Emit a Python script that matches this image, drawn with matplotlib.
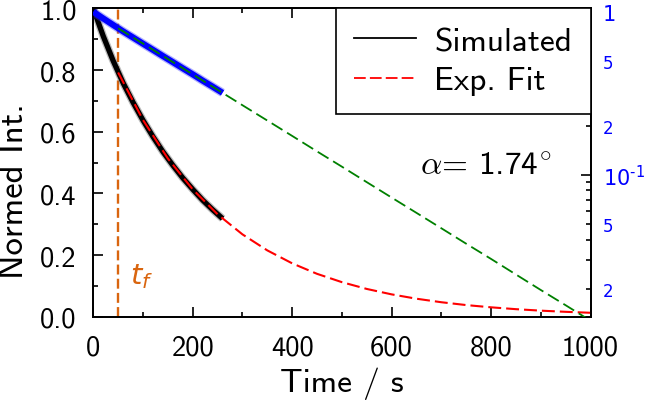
import numpy as np
import matplotlib
matplotlib.use("Agg")
import matplotlib.pyplot as plt
from matplotlib.lines import Line2D
from matplotlib.ticker import LogLocator, FuncFormatter, MultipleLocator

plt.rcParams['font.family'] = ['cmss10', 'DejaVu Sans']
plt.rcParams['mathtext.fontset'] = 'cm'
plt.rcParams['axes.unicode_minus'] = False

# simulated intensity
t_sim = [0, 20, 40, 60, 80, 100, 120, 140, 160, 180, 200, 220, 240, 260]
i_sim = [1.000, 0.910, 0.830, 0.758, 0.695, 0.637, 0.584, 0.535, 0.491,
         0.450, 0.413, 0.378, 0.347, 0.318]

# exponential fit, sampled from t_f on
t_fit = [50, 100, 150, 200, 250, 300, 350, 400, 450, 500, 550, 600, 650,
         700, 750, 800, 850, 900, 950, 1000]
i_fit = [0.792, 0.638, 0.513, 0.413, 0.332, 0.267, 0.215, 0.173, 0.139,
         0.112, 0.090, 0.0724, 0.0583, 0.0469, 0.0377, 0.0304, 0.0244,
         0.0196, 0.0158, 0.0127]

t_f = 50
alpha_deg = 1.74
orange = '#d9650f'

fig = plt.figure(figsize=(6.5, 4.06), dpi=100)
ax = fig.add_subplot(111)
fig.subplots_adjust(left=0.1435, right=0.9085, bottom=0.2175, top=0.977)
ax2 = ax.twinx()

# linear axis: black data + red fit
ax.plot(t_sim, i_sim, color='0.35', lw=5.6, alpha=0.4, solid_capstyle='butt', zorder=2)
ax.plot(t_sim, i_sim, color='black', lw=3.8, solid_capstyle='butt', zorder=3)
ax.plot(t_fit, i_fit, color='red', lw=1.5, dashes=(6.2, 2.4), zorder=4)
ax.axvline(t_f, color=orange, lw=1.7, dashes=(4.2, 1.8), zorder=1)
ax.text(74, 0.108, '$t_f$', color=orange, fontsize=21, math_fontfamily='dejavusans',
        va='baseline', ha='left')
ax.text(657, 0.463, r'$\alpha$= %.2f$^{\circ}$' % alpha_deg, fontsize=24,
        va='baseline', ha='left')

# log axis: blue data + green fit
ax2.set_yscale('log')
ax2.plot(t_sim, i_sim, color='#3a3aff', lw=6.2, alpha=0.4, solid_capstyle='butt', zorder=2)
ax2.plot(t_sim, i_sim, color='blue', lw=4.4, solid_capstyle='butt', zorder=3)
ax2.plot(t_fit, i_fit, color='green', lw=1.3, dashes=(7, 3), zorder=4)

ax.set_xlim(0, 1000)
ax.set_ylim(0, 1.0)
ax2.set_ylim(0.01344, 1.05)

ax.xaxis.set_major_locator(MultipleLocator(200))
ax.xaxis.set_minor_locator(MultipleLocator(100))
ax.yaxis.set_major_locator(MultipleLocator(0.2))
ax.yaxis.set_minor_locator(MultipleLocator(0.1))
ax.yaxis.set_major_formatter(FuncFormatter(lambda v, p: '%.1f' % v))
ax.tick_params(which='both', direction='in', top=True, right=False, width=1.2)
ax.tick_params(which='major', length=7, labelsize=20.5)
ax.tick_params(axis='x', which='major', pad=13)
ax.tick_params(axis='y', which='major', pad=12)
ax.tick_params(which='minor', length=3.5)

ax2.set_yticks([1, 0.1], ['1', r'$10^{\text{-}1}$'])
ax2.yaxis.set_minor_locator(LogLocator(base=10, subs=np.arange(2, 10)))


def minor_lab(v, p):
    m = int(round(v / 10 ** np.floor(np.log10(v))))
    return str(m) if m in (2, 5) else ''


ax2.yaxis.set_minor_formatter(FuncFormatter(minor_lab))
ax2.tick_params(which='both', direction='in', width=1.2, labelcolor='blue',
                pad=9, labelfontfamily='DejaVu Sans')
ax2.tick_params(which='major', length=7, labelsize=15)
ax2.tick_params(which='minor', length=3.5, labelsize=12)
for lab in ax2.get_yticklabels():
    lab.set_math_fontfamily('dejavusans')

for a in (ax, ax2):
    for s in a.spines.values():
        s.set_linewidth(1.3)

ax.set_xlabel('Time / s', fontsize=24)
ax.set_ylabel('Normed Int.', fontsize=25)
ax.xaxis.set_label_coords(0.5, -0.163)
ax.yaxis.set_label_coords(-0.128, 0.41)

handles = [Line2D([], [], color='black', lw=1.3),
           Line2D([], [], color='red', lw=1.3, dashes=(6.5, 2.3))]
leg = ax2.legend(handles, ['Simulated', 'Exp. Fit'], loc='upper right', fontsize=24,
                 fancybox=False, edgecolor='black', framealpha=1, borderaxespad=0,
                 handlelength=1.85, handletextpad=0.55, labelspacing=0.3,
                 borderpad=0.55)
leg.get_frame().set_linewidth(1.2)

fig.savefig('out.png', dpi=100)
